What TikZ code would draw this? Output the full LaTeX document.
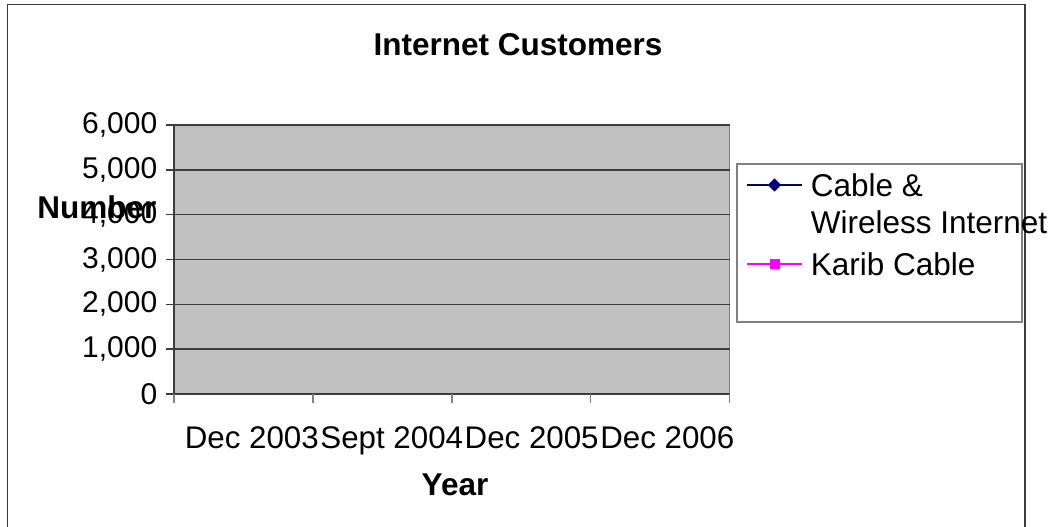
\documentclass[tikz,border=0pt]{standalone}
\usepackage{fontspec}
\setmainfont{Liberation Sans}
\usetikzlibrary{shapes.geometric}

\definecolor{plotgrey}{HTML}{C0C0C0}
\definecolor{gridgrey}{HTML}{3C3C3C}
\definecolor{edgegrey}{HTML}{808080}
\definecolor{seriesnavy}{HTML}{000080}
\definecolor{seriesmagenta}{HTML}{FF00FF}

\begin{document}
\begin{tikzpicture}[x=1pt,y=-1pt,line width=1.6pt]
    \tikzstyle{every node}+=[inner sep=0pt]
    \tikzstyle{ticklabel}=[font=\fontsize{30}{36}\selectfont]
    \tikzstyle{catlabel}=[font=\fontsize{31.3}{37}\selectfont,anchor=base west]
    \tikzstyle{boldlabel}=[font=\bfseries\fontsize{31.5}{37}\selectfont]
    \tikzstyle{legendtext}=[font=\fontsize{31.5}{37}\selectfont]
    \tikzstyle{diamondmark}=[shape=diamond,fill=seriesnavy,minimum size=14pt]
    \tikzstyle{squaremark}=[shape=rectangle,fill=seriesmagenta,minimum size=10pt]
    \useasboundingbox (0,0) rectangle (1054,527);
    % outer frame, bottom edge runs off the page
    \draw [gridgrey] (7.5,540) -- (7.5,4.5) -- (1025,4.5) -- (1025,540);
    \node [boldlabel] (title) at (518,45) {Internet Customers};
    % plot area and value grid
    \fill [plotgrey] (174,125) rectangle (729.5,394);
    \draw [edgegrey] (729.5,125) -- (729.5,394);
    \foreach \i/\lab in {0/0,1/{1,000},2/{2,000},3/{3,000},4/{4,000},5/{5,000},6/{6,000}} {
        \draw [gridgrey] (165.5,{394-44.83*\i}) -- (729.5,{394-44.83*\i});
        \node [ticklabel,anchor=east] (ylab\i) at (158,{394-44.83*\i}) {\lab};
    }
    \draw [gridgrey] (174,125) -- (174,394);
    % category axis, labels run on one after another
    \foreach \j in {0,...,4}
        \draw [edgegrey] ({174+138.875*\j},394) -- ({174+138.875*\j},402.5);
    \node [catlabel] (xlab0) at (184,448) {Dec 2003};
    \node [catlabel] (xlab1) at (xlab0.base east) {Sept 2004};
    \node [catlabel] (xlab2) at (xlab1.base east) {Dec 2005};
    \node [catlabel] (xlab3) at (xlab2.base east) {Dec 2006};
    \node [boldlabel] (ytitle) at (97,207) {Number};
    \node [boldlabel] (xtitle) at (455,485) {Year};
    % legend
    \draw [edgegrey] (737,164) rectangle (1022,322);
    \coordinate (cwa) at (747,185);
    \coordinate (cwb) at (802,185);
    \draw [seriesnavy] (cwa) -- (cwb);
    \node [diamondmark] (cwmark) at (774.5,185) {};
    \node [legendtext,anchor=north west,align=left] (cwtext) at (810,173) {Cable \&\\Wireless Internet};
    \coordinate (kca) at (747,264);
    \coordinate (kcb) at (802,264);
    \draw [seriesmagenta] (kca) -- (kcb);
    \node [squaremark] (kcmark) at (774.5,264) {};
    \node [legendtext,anchor=west] (kctext) at (810,264) {Karib Cable};
\end{tikzpicture}
\end{document}
